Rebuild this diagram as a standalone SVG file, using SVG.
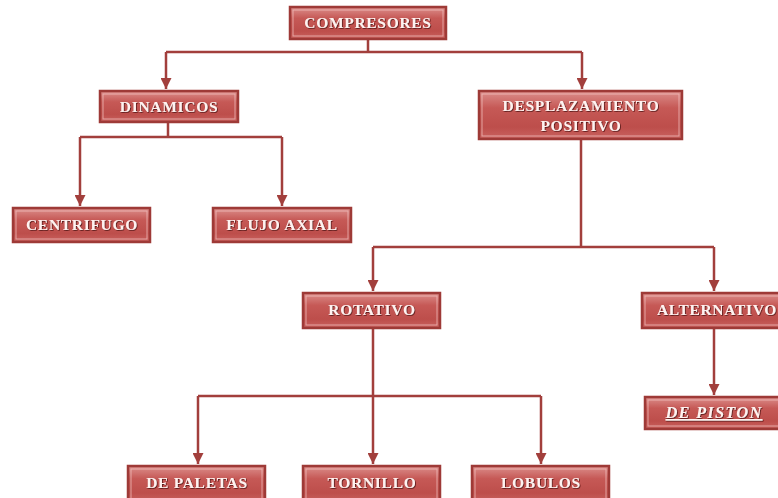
<svg xmlns="http://www.w3.org/2000/svg" width="778" height="498" viewBox="0 0 778 498">
<defs>
<linearGradient id="g" x1="0" y1="0" x2="0" y2="1">
<stop offset="0" stop-color="#dc8f8c"/>
<stop offset="0.35" stop-color="#c65956"/>
<stop offset="0.75" stop-color="#bd4e4b"/>
<stop offset="1" stop-color="#c9625f"/>
</linearGradient>
<filter id="sh" x="-10%" y="-30%" width="120%" height="160%">
<feDropShadow dx="0.8" dy="0.8" stdDeviation="0.6" flood-color="#4a1010" flood-opacity="0.9"/>
</filter>
<marker id="ah" viewBox="0 0 10 10" refX="10" refY="5" markerWidth="4.4" markerHeight="4.4" orient="auto" markerUnits="strokeWidth">
<path d="M0,0 L10,5 L0,10 z" fill="#a23f3c"/>
</marker>
</defs>
<style>
.box{fill:url(#g);stroke:#9e3a37;stroke-width:2.5}
.inner{fill:none;stroke:#f3c6c4;stroke-width:1;opacity:0.7}
.t{font-family:"Liberation Serif",serif;font-weight:bold;font-size:15.5px;letter-spacing:0.7px;fill:#fff2f0;text-anchor:middle;filter:url(#sh)}
.c{fill:none;stroke:#a23f3c;stroke-width:2.5}
</style>
<rect width="778" height="498" fill="#ffffff"/>
<g id="connectors">
<path class="c" d="M368,39 V52 M166,52 H582"/>
<path class="c" d="M166,52 V89" marker-end="url(#ah)"/>
<path class="c" d="M582,52 V89" marker-end="url(#ah)"/>
<path class="c" d="M168,122 V137 M80,137 H282"/>
<path class="c" d="M80,137 V206" marker-end="url(#ah)"/>
<path class="c" d="M282,137 V206" marker-end="url(#ah)"/>
<path class="c" d="M581,139 V247 M373,247 H714"/>
<path class="c" d="M373,247 V291" marker-end="url(#ah)"/>
<path class="c" d="M714,247 V291" marker-end="url(#ah)"/>
<path class="c" d="M373,328 V396 M198,396 H541"/>
<path class="c" d="M198,396 V464" marker-end="url(#ah)"/>
<path class="c" d="M373,396 V464" marker-end="url(#ah)"/>
<path class="c" d="M541,396 V464" marker-end="url(#ah)"/>
<path class="c" d="M714,328 V395" marker-end="url(#ah)"/>
</g>
<g id="compresores">
<rect class="box" x="290" y="7" width="156" height="32"/>
<rect class="inner" x="293" y="10" width="150" height="26"/>
<text class="t" x="368" y="28">COMPRESORES</text>
</g>
<g id="dinamicos">
<rect class="box" x="100" y="91" width="138" height="31"/>
<rect class="inner" x="103" y="94" width="132" height="25"/>
<text class="t" x="169" y="112">DINAMICOS</text>
</g>
<g id="desplazamiento">
<rect class="box" x="479" y="91" width="203" height="48"/>
<rect class="inner" x="482" y="94" width="197" height="42"/>
<text class="t" x="581" y="111">DESPLAZAMIENTO</text>
<text class="t" x="581" y="131">POSITIVO</text>
</g>
<g id="centrifugo">
<rect class="box" x="13" y="208" width="137" height="34"/>
<rect class="inner" x="16" y="211" width="131" height="28"/>
<text class="t" x="82" y="230">CENTRIFUGO</text>
</g>
<g id="flujo-axial">
<rect class="box" x="213" y="208" width="138" height="34"/>
<rect class="inner" x="216" y="211" width="132" height="28"/>
<text class="t" x="282" y="230">FLUJO AXIAL</text>
</g>
<g id="rotativo">
<rect class="box" x="303" y="293" width="137" height="35"/>
<rect class="inner" x="306" y="296" width="131" height="29"/>
<text class="t" x="372" y="315">ROTATIVO</text>
</g>
<g id="alternativo">
<rect class="box" x="642" y="293" width="140" height="35"/>
<rect class="inner" x="645" y="296" width="134" height="29"/>
<text class="t" x="717" y="315">ALTERNATIVO</text>
</g>
<g id="de-piston">
<rect class="box" x="645" y="397" width="137" height="32"/>
<rect class="inner" x="648" y="400" width="131" height="26"/>
<text class="t" x="714" y="418" font-style="italic" text-decoration="underline" style="font-size:16.5px;letter-spacing:1.2px">DE PISTON</text>
</g>
<g id="de-paletas">
<rect class="box" x="128" y="466" width="137" height="36"/>
<rect class="inner" x="131" y="469" width="131" height="30"/>
<text class="t" x="197" y="488">DE PALETAS</text>
</g>
<g id="tornillo">
<rect class="box" x="303" y="466" width="137" height="36"/>
<rect class="inner" x="306" y="469" width="131" height="30"/>
<text class="t" x="372" y="488">TORNILLO</text>
</g>
<g id="lobulos">
<rect class="box" x="472" y="466" width="137" height="36"/>
<rect class="inner" x="475" y="469" width="131" height="30"/>
<text class="t" x="541" y="488">LOBULOS</text>
</g>
</svg>
